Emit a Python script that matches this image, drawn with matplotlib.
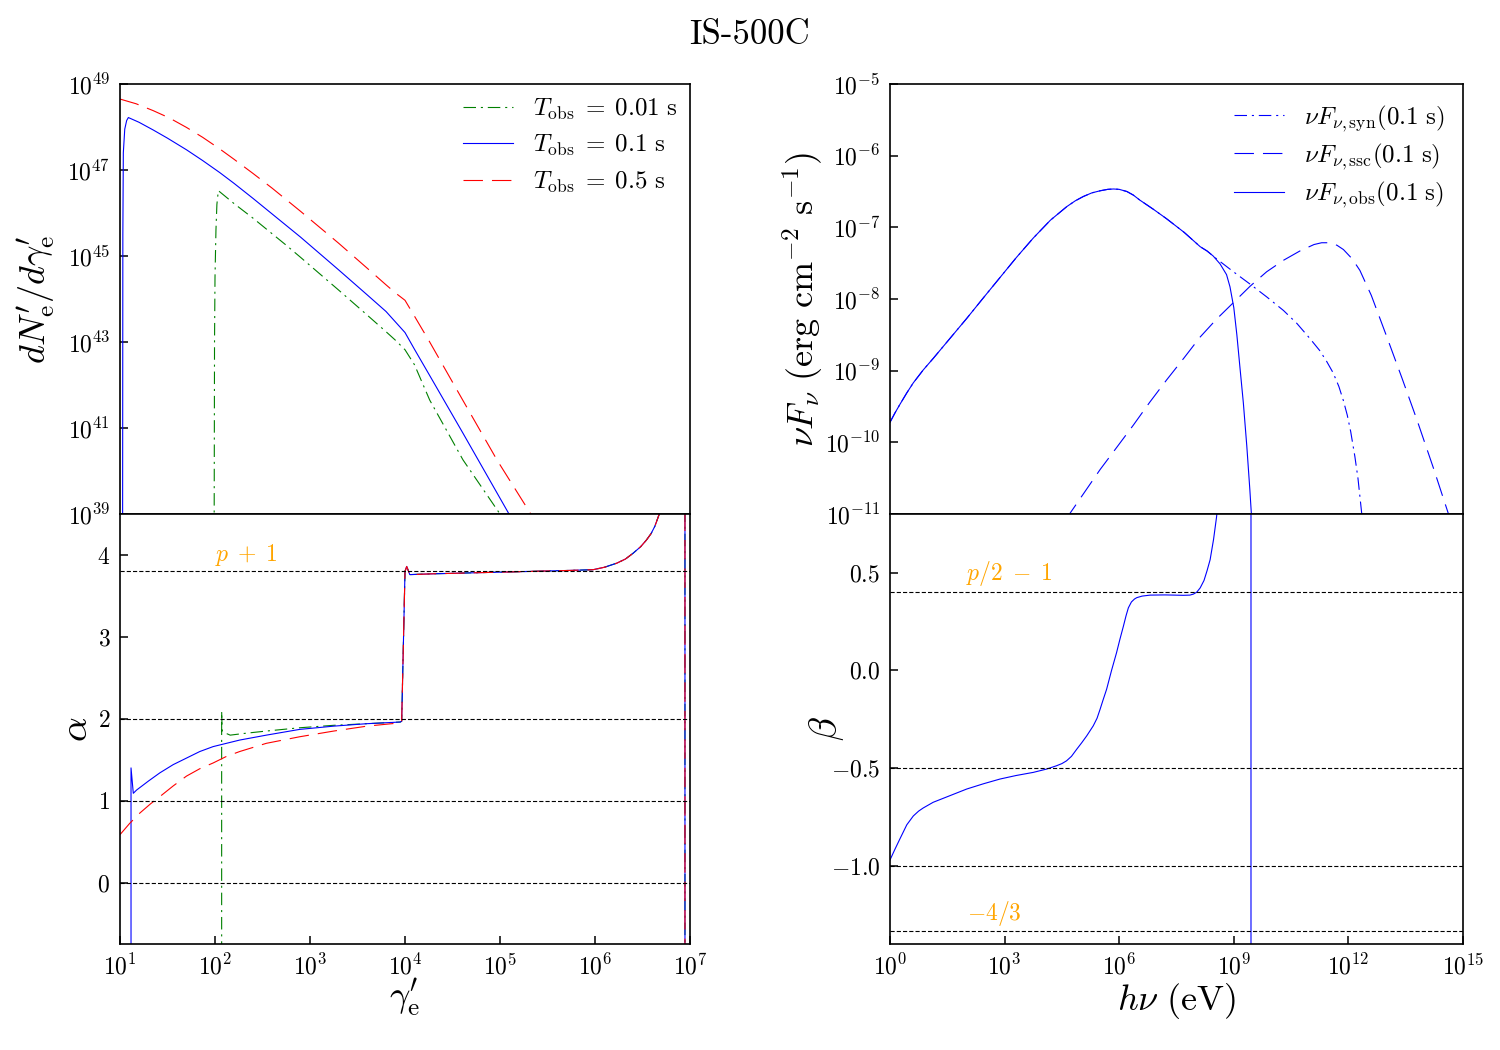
import numpy as np
import matplotlib
matplotlib.use('Agg')
import matplotlib.pyplot as plt
from matplotlib.ticker import FixedLocator, NullLocator, FormatStrFormatter

plt.rcParams.update({
    'font.family': 'serif', 'font.serif': ['cmr10'], 'mathtext.fontset': 'cm',
    'axes.formatter.use_mathtext': True, 'axes.unicode_minus': False,
    'lines.scale_dashes': False,
})

# ---------------- data ----------------
# electron spectra: log10(gamma'_e) and log10(dN'_e/dgamma'_e)
lgN_g_001 = [1.99, 1.995, 2.0, 2.01, 2.02, 2.035, 2.2, 2.4, 2.6, 2.75, 2.9, 3.1, 3.3, 3.45, 3.6, 3.8, 3.9,
             4.0, 4.1, 4.26, 4.61, 5.0, 5.2]
lgN_v_001 = [37.5, 43.0, 44.5, 45.6, 46.2, 46.52, 46.22, 45.88, 45.52, 45.25, 44.97, 44.59, 44.21, 43.92,
             43.63, 43.24, 43.04, 42.82, 42.47, 41.65, 40.26, 39.0, 38.3]
lgN_g_01 = [1.027, 1.03, 1.035, 1.05, 1.07, 1.088, 1.2, 1.35, 1.5, 1.7, 1.87, 2.05, 2.2, 2.4, 2.6, 2.75,
            2.9, 3.1, 3.3, 3.45, 3.6, 3.8, 4.0, 4.1, 4.26, 4.61, 5.1, 5.3]
lgN_v_01 = [37.5, 45.5, 47.4, 47.95, 48.15, 48.22, 48.11, 47.93, 47.74, 47.47, 47.22, 46.94, 46.69,
            46.34, 45.98, 45.71, 45.44, 45.06, 44.68, 44.39, 44.10, 43.71, 43.22, 42.83, 42.22, 40.88,
            38.98, 38.2]
lgN_g_05 = [1.0, 1.17, 1.35, 1.52, 1.7, 1.87, 2.05, 2.2, 2.4, 2.6, 2.75, 2.9, 3.1, 3.3, 3.45, 3.6, 3.8,
            3.9, 4.0, 4.1, 4.26, 4.61, 4.97, 5.33, 5.5]
lgN_v_05 = [48.65, 48.54, 48.38, 48.21, 47.99, 47.76, 47.49, 47.25, 46.92, 46.58, 46.31, 46.04, 45.67,
            45.30, 45.01, 44.72, 44.33, 44.14, 43.97, 43.60, 43.00, 41.64, 40.25, 38.98, 38.3]

# local slope alpha of the electron spectra
alpha_g_001 = [2.07, 2.07, 2.075, 2.1, 2.16, 2.3, 2.54, 2.89, 3.25, 3.6, 3.95]
alpha_v_001 = [-60, 2.09, 1.85, 1.83, 1.80, 1.82, 1.85, 1.89, 1.92, 1.94, 1.96]
alpha_g_01 = [1.116, 1.116, 1.14, 1.175, 1.3, 1.42, 1.56, 1.70, 1.84, 1.98, 2.12, 2.26, 2.54, 2.89,
              3.25, 3.6, 3.95]
alpha_v_01 = [-60, 1.40, 1.09, 1.13, 1.24, 1.34, 1.44, 1.52, 1.60, 1.66, 1.70, 1.74, 1.80, 1.87,
              1.91, 1.94, 1.96]
alpha_g_05 = [1.0, 1.1, 1.21, 1.32, 1.42, 1.56, 1.70, 1.84, 1.98, 2.12, 2.26, 2.54, 2.89, 3.25, 3.6, 3.95]
alpha_v_05 = [0.585, 0.72, 0.85, 0.96, 1.05, 1.18, 1.30, 1.39, 1.46, 1.54, 1.60, 1.70, 1.78, 1.85,
              1.91, 1.95]
alpha_hi_g = [3.965, 4.0, 4.018, 4.05, 4.3, 4.65, 5.0, 5.35, 5.7, 5.98, 6.1, 6.23, 6.32, 6.40,
              6.48, 6.54, 6.59, 6.63, 6.68, 6.8, 6.947, 6.947]
alpha_hi_v = [1.97, 3.80, 3.86, 3.76, 3.77, 3.78, 3.79, 3.80, 3.81, 3.82, 3.85, 3.90, 3.95, 4.02,
              4.10, 4.18, 4.26, 4.35, 4.51, 8.0, 60, -60]

# photon spectra: log10(h nu / eV) and log10(nu F_nu)
lgE_obs = [0.0, 0.13, 0.26, 0.44, 0.61, 0.87, 1.13, 1.57, 2.01, 2.45, 2.88, 3.31, 3.75, 4.2, 4.63,
           4.85, 5.06, 5.28, 5.5, 5.7, 5.85, 6.0, 6.2, 6.37, 6.54, 6.9, 7.24, 7.7, 8.12,
           8.3, 8.46, 8.64, 8.81, 8.9, 9.0, 9.08, 9.16, 9.25, 9.34, 9.42, 9.46, 9.5]
lgF_obs = [-9.72, -9.59, -9.47, -9.31, -9.17, -8.99, -8.83, -8.55, -8.27, -7.98, -7.70, -7.42, -7.15,
           -6.90, -6.71, -6.63, -6.57, -6.52, -6.49, -6.47, -6.465, -6.47, -6.50, -6.55, -6.62, -6.75,
           -6.88, -7.07, -7.27, -7.33, -7.40, -7.51, -7.66, -7.83, -8.12, -8.50, -8.95, -9.45, -10.05,
           -10.66, -11.0, -11.5]
lgE_syn = lgE_obs[:30] + [8.55, 8.99, 9.42, 9.86, 10.3, 10.65, 10.99, 11.25, 11.43, 11.6, 11.75, 11.87,
                          11.97, 12.06, 12.17, 12.25, 12.35, 12.45]
lgF_syn = lgF_obs[:30] + [-7.44, -7.62, -7.79, -7.97, -8.16, -8.34, -8.55, -8.72, -8.87, -9.03, -9.22,
                          -9.42, -9.62, -9.85, -10.2, -10.5, -11.0, -11.6]
lgE_ssc = [4.6, 4.70, 5.1, 5.5, 5.95, 6.37, 6.8, 7.24, 7.7, 8.12, 8.55, 8.99, 9.43, 9.86, 10.3, 10.73,
           11.1, 11.3, 11.5, 11.7, 11.87, 12.1, 12.3, 12.6, 13.0, 13.4, 13.79, 14.22, 14.62, 14.8]
lgF_ssc = [-11.1, -11.0, -10.69, -10.38, -10.06, -9.76, -9.44, -9.13, -8.82, -8.53, -8.28, -8.05,
           -7.82, -7.62, -7.46, -7.33, -7.24, -7.215, -7.215, -7.25, -7.31, -7.44, -7.60, -7.95, -8.52,
           -9.10, -9.68, -10.35, -11.0, -11.3]

# spectral index beta of the observed spectrum
beta_E = [0.0, 0.13, 0.26, 0.44, 0.61, 0.75, 0.87, 1.13, 1.57, 2.01, 2.45, 2.88, 3.3, 3.75, 4.1, 4.36,
          4.5, 4.62, 4.75, 4.89, 5.02, 5.15, 5.32, 5.42, 5.5, 5.58, 5.67, 5.8, 5.93, 6.02, 6.11, 6.18,
          6.24, 6.32, 6.4, 6.46, 6.6, 6.81, 7.2, 7.68, 7.85, 7.94, 8.03, 8.12, 8.22, 8.3, 8.38, 8.47,
          8.55, 8.62, 9.45, 9.45]
beta_v = [-0.97, -0.915, -0.862, -0.79, -0.745, -0.72, -0.704, -0.675, -0.641, -0.607, -0.58, -0.556,
          -0.538, -0.522, -0.505, -0.488, -0.477, -0.463, -0.44, -0.403, -0.37, -0.335, -0.284, -0.245,
          -0.199, -0.15, -0.097, 0.0, 0.09, 0.16, 0.226, 0.28, 0.32, 0.35, 0.365, 0.372, 0.38, 0.385,
          0.386, 0.384, 0.385, 0.39, 0.40, 0.422, 0.46, 0.51, 0.566, 0.67, 0.787, 0.95, 30, -30]

alpha_refs = [3.8, 2.0, 1.0, 0.0]
beta_refs = [0.4, -0.5, -1.0, -4 / 3]
labels_T = [r'$T_{\rm obs}\;=\;0.01\ {\rm s}$', r'$T_{\rm obs}\;=\;0.1\ {\rm s}$',
            r'$T_{\rm obs}\;=\;0.5\ {\rm s}$']
labels_nu = [r'$\nu F_{\nu,{\rm syn}}(0.1\ {\rm s})$', r'$\nu F_{\nu,{\rm ssc}}(0.1\ {\rm s})$',
             r'$\nu F_{\nu,{\rm obs}}(0.1\ {\rm s})$']

# ---------------- styles ----------------
DASHDOT = (9, 3.5, 1.5, 3.5)
DASH = (14, 6.5)
LW = 0.8
sty_T = [dict(color='green', dashes=DASHDOT), dict(color='blue'), dict(color='red', dashes=DASH)]
sty_nu = [dict(color='blue', dashes=DASHDOT), dict(color='blue', dashes=DASH), dict(color='blue')]

fig = plt.figure(figsize=(15, 10.5), dpi=100)
W, H = 1500, 1050
L0, L1 = 120 / W, 690 / W
R0, R1 = 890 / W, 1463 / W
yt, ym, yb = 1 - 84 / H, 1 - 514 / H, 1 - 944 / H
ax1 = fig.add_axes([L0, ym, L1 - L0, yt - ym])
ax2 = fig.add_axes([L0, yb, L1 - L0, ym - yb])
ax3 = fig.add_axes([R0, ym, R1 - R0, yt - ym])
ax4 = fig.add_axes([R0, yb, R1 - R0, ym - yb])

p = lambda a: 10 ** np.asarray(a, dtype=float)

# top left
for gx, gy, st, lab in zip([lgN_g_001, lgN_g_01, lgN_g_05], [lgN_v_001, lgN_v_01, lgN_v_05], sty_T, labels_T):
    ax1.plot(p(gx), p(gy), lw=LW, label=lab, **st)
ax1.set_xscale('log'); ax1.set_yscale('log')
ax1.set_xlim(1e1, 1e7); ax1.set_ylim(1e39, 1e49)
ax1.yaxis.set_major_locator(FixedLocator(p([39, 41, 43, 45, 47, 49])))
ax1.set_ylabel(r"$dN^{\prime}_{\rm e}/d\gamma^{\prime}_{\rm e}$", fontsize=26)
ax1.legend(loc='upper right', frameon=False, fontsize=18, handlelength=2.0, handletextpad=0.8,
           labelspacing=0.45, borderaxespad=0.1)

# bottom left
for gx, gy, st in zip([alpha_g_001, alpha_g_01, alpha_g_05], [alpha_v_001, alpha_v_01, alpha_v_05], sty_T):
    ax2.plot(p(list(gx) + alpha_hi_g), list(gy) + alpha_hi_v, lw=LW, **st)
for r in alpha_refs:
    ax2.axhline(r, color='black', lw=0.8, dashes=(3, 1.5))
ax2.set_xscale('log')
ax2.set_xlim(1e1, 1e7); ax2.set_ylim(-0.75, 4.5)
ax2.yaxis.set_major_locator(FixedLocator([0, 1, 2, 3, 4]))
ax2.yaxis.set_major_formatter(FormatStrFormatter(r'$%d$'))
ax2.text(1e2, 3.84, r'$p\;+\;1$', color='orange', fontsize=17, va='bottom', ha='left')
ax2.set_ylabel(r'$\alpha$', fontsize=28)
ax2.set_xlabel(r"$\gamma^{\prime}_{\rm e}$", fontsize=26)

# top right
for ex, fy, st, lab in zip([lgE_syn, lgE_ssc, lgE_obs], [lgF_syn, lgF_ssc, lgF_obs], sty_nu, labels_nu):
    ax3.plot(p(ex), p(fy), lw=LW, label=lab, **st)
ax3.set_xscale('log'); ax3.set_yscale('log')
ax3.set_xlim(1e0, 1e15); ax3.set_ylim(1e-11, 1e-5)
ax3.yaxis.set_major_locator(FixedLocator(p(np.arange(-11, -4))))
ax3.set_ylabel(r'$\nu F_\nu\ ({\rm erg\ cm^{-2}\ s^{-1}})$', fontsize=26)
ax3.legend(loc='upper right', frameon=False, fontsize=18, handlelength=2.0, handletextpad=0.8,
           labelspacing=0.3, borderaxespad=0.35)

# bottom right
ax4.plot(p(beta_E), beta_v, lw=LW, color='blue')
for r in beta_refs:
    ax4.axhline(r, color='black', lw=0.8, dashes=(3, 1.5))
ax4.set_xscale('log')
ax4.set_xlim(1e0, 1e15); ax4.set_ylim(-1.4, 0.8)
ax4.xaxis.set_major_locator(FixedLocator(p([0, 3, 6, 9, 12, 15])))
ax4.yaxis.set_major_locator(FixedLocator([-1.0, -0.5, 0.0, 0.5]))
ax4.yaxis.set_major_formatter(FormatStrFormatter(r'$%.1f$'))
ax4.text(1e2, 0.42, r'$p/2\;-\;1$', color='orange', fontsize=17, va='bottom', ha='left')
ax4.text(1.05e2, -1.32, r'$-4/3$', color='orange', fontsize=17, va='bottom', ha='left')
ax4.set_ylabel(r'$\beta$', fontsize=28)
ax4.set_xlabel(r'$h\nu\ ({\rm eV})$', fontsize=26)

for ax in (ax1, ax2, ax3, ax4):
    for s in ax.spines.values():
        s.set_linewidth(1.2)
    ax.tick_params(which='major', direction='in', length=6, width=1.1, labelsize=17, pad=7,
                   top=False, right=False)
    ax.xaxis.set_minor_locator(NullLocator())
    ax.yaxis.set_minor_locator(NullLocator())
for ax in (ax1, ax3):
    ax.tick_params(axis='x', which='both', bottom=False, labelbottom=False)

ax1.yaxis.set_label_coords(-0.11, 0.5)
ax2.yaxis.set_label_coords(-0.043, 0.5)
ax3.yaxis.set_label_coords(-0.114, 0.5)
ax4.yaxis.set_label_coords(-0.076, 0.5)
ax2.xaxis.set_label_coords(0.5, -0.075)
ax4.xaxis.set_label_coords(0.5, -0.085)

fig.text(0.5, 1 - 35 / H, 'IS-500C', ha='center', va='center', fontsize=25)

fig.savefig('out.png', dpi=100)
